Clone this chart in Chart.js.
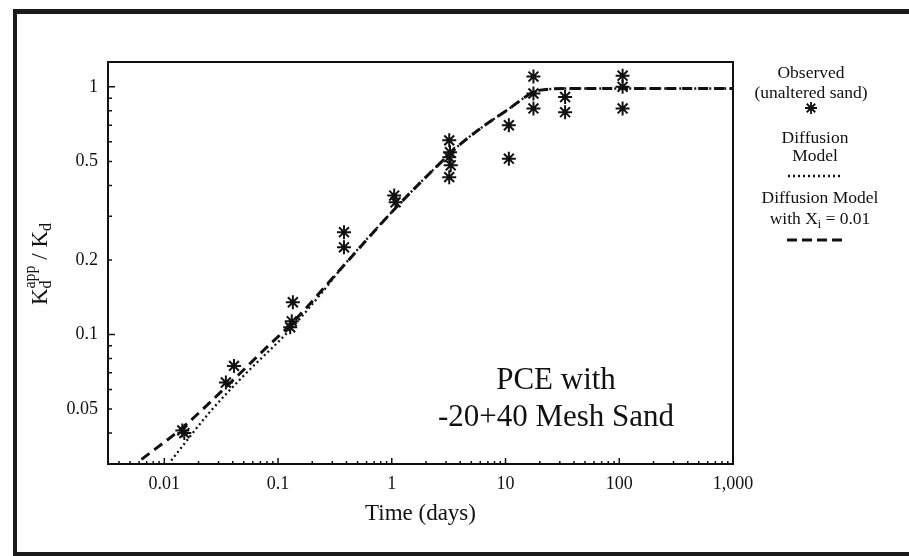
<!DOCTYPE html>
<html>
<head>
<meta charset="utf-8">
<script src="https://cdn.jsdelivr.net/npm/chart.js@4"></script>
<style>
  html, body { margin: 0; padding: 0; background: #fff; }
  #wrap { width: 909px; height: 556px; position: relative; }
</style>
</head>
<body>
<div id="wrap"><canvas id="chart"></canvas></div>
<script>
// observed points (unaltered sand)
const obsTime = [0.0144, 0.0150, 0.0348, 0.041, 0.128, 0.132, 0.135, 0.38, 0.38, 1.05, 1.08, 3.2, 3.25, 3.2, 3.3, 3.2, 10.7, 10.7, 17.6, 17.6, 17.6, 33.4, 33.4, 107, 107, 107];
const obsKd   = [0.041, 0.040, 0.064, 0.0747, 0.107, 0.113, 0.135, 0.259, 0.225, 0.364, 0.342, 0.608, 0.545, 0.52, 0.482, 0.432, 0.70, 0.513, 1.10, 0.94, 0.818, 0.91, 0.79, 1.11, 1.0, 0.818];

// Diffusion model (dotted)
const diffTime = [0.0115, 0.0255, 0.0496, 0.126, 0.25, 0.367, 1.1, 2.72, 4.06, 10.3, 20.2, 40, 1000];
const diffKd   = [0.031, 0.049, 0.068, 0.104, 0.150, 0.187, 0.327, 0.497, 0.59, 0.805, 0.97, 0.985, 0.985];

// Diffusion model with Xi = 0.01 (dashed)
const diffXiTime = [0.0063, 0.0144, 0.041, 0.074, 0.135, 0.367, 1.1, 2.72, 4.06, 10.3, 20.2, 40, 1000];
const diffXiKd   = [0.0313, 0.042, 0.066, 0.086, 0.112, 0.187, 0.327, 0.497, 0.59, 0.805, 0.97, 0.985, 0.985];

const xTicks = [0.01, 0.1, 1, 10, 100, 1000];
const xTickLabels = ['0.01', '0.1', '1', '10', '100', '1,000'];
const yTicks = [0.05, 0.1, 0.2, 0.5, 1];
const yTickLabels = ['0.05', '0.1', '0.2', '0.5', '1'];

const SERIF = "'Liberation Serif', 'Times New Roman', serif";

const toPts = (xs, ys) => xs.map((x, i) => ({ x: x, y: ys[i] }));

const minorValues = (min, max) => {
  const out = [];
  for (let e = -4; e <= 3; e++) {
    for (let m = 1; m <= 9; m++) {
      const v = m * Math.pow(10, e);
      if (v >= min && v <= max) out.push({ v: v, major: m === 1 });
    }
  }
  return out;
};

const decor = {
  id: 'decor',
  afterDraw(chart) {
    const ctx = chart.ctx;
    const a = chart.chartArea;
    const xs = chart.scales.x, ys = chart.scales.y;
    ctx.save();

    // outer frame
    ctx.fillStyle = '#1a1a1a';
    ctx.fillRect(13, 9, 4, 547);
    ctx.fillRect(13, 9, 896, 5);
    ctx.fillRect(13, 552, 896, 4);

    // plot box top / right
    ctx.strokeStyle = '#111';
    ctx.lineWidth = 2;
    ctx.beginPath();
    ctx.moveTo(a.left, a.top); ctx.lineTo(a.right, a.top); ctx.lineTo(a.right, a.bottom);
    ctx.stroke();

    // inward ticks
    ctx.lineWidth = 1.5;
    ctx.beginPath();
    minorValues(xs.min, xs.max).forEach(t => {
      const px = xs.getPixelForValue(t.v);
      ctx.moveTo(px, a.bottom); ctx.lineTo(px, a.bottom - (t.major ? 6 : 3));
    });
    minorValues(ys.min, ys.max).forEach(t => {
      const py = ys.getPixelForValue(t.v);
      ctx.moveTo(a.left, py); ctx.lineTo(a.left + (t.major ? 7 : 4), py);
    });
    ctx.stroke();

    ctx.fillStyle = '#111';

    // y axis title K_d^app / K_d
    const parts = [
      { t: 'K', size: 23, dy: 0 },
      { t: 'd', size: 16, dy: 6 },
      { t: 'app', size: 16, dy: -10 },
      { t: ' / K', size: 23, dy: 0 },
      { t: 'd', size: 16, dy: 6 }
    ];
    ctx.save();
    ctx.translate(41, 264);
    ctx.rotate(-Math.PI / 2);
    ctx.textBaseline = 'middle';
    ctx.textAlign = 'left';
    let tot = 0;
    parts.forEach(p => { ctx.font = p.size + 'px ' + SERIF; p.w = ctx.measureText(p.t).width; tot += p.w; });
    tot -= parts[1].w;
    let cx = -tot / 2;
    parts.forEach((p, i) => {
      ctx.font = p.size + 'px ' + SERIF;
      // superscript sits above the subscript
      if (i === 2) cx -= parts[1].w;
      ctx.fillText(p.t, cx, p.dy);
      cx += p.w;
    });
    ctx.restore();

    // annotation
    ctx.textAlign = 'center';
    ctx.textBaseline = 'alphabetic';
    ctx.font = '31px ' + SERIF;
    ctx.fillText('PCE with', 556, 389);
    ctx.fillText('-20+40 Mesh Sand', 556, 426);

    // legend
    const lx = 815;
    ctx.font = '17.5px ' + SERIF;
    ctx.fillText('Observed', lx - 4, 78);
    ctx.fillText('(unaltered sand)', lx - 4, 98);
    ctx.fillText('Diffusion', lx, 143);
    ctx.fillText('Model', lx, 161);
    ctx.fillText('Diffusion Model', lx + 5, 203);
    // with X_i = 0.01
    const s1 = 'with X', s2 = 'i', s3 = ' = 0.01';
    ctx.textAlign = 'left';
    const w1 = ctx.measureText(s1).width, w3 = ctx.measureText(s3).width;
    ctx.font = '12px ' + SERIF;
    const w2 = ctx.measureText(s2).width;
    let sx = lx + 5 - (w1 + w2 + w3) / 2;
    ctx.font = '17.5px ' + SERIF;
    ctx.fillText(s1, sx, 224); sx += w1;
    ctx.font = '12px ' + SERIF;
    ctx.fillText(s2, sx, 228); sx += w2;
    ctx.font = '17.5px ' + SERIF;
    ctx.fillText(s3, sx, 224);

    // legend samples
    ctx.strokeStyle = '#111';
    ctx.lineWidth = 1.8;
    const sy = 108, ax = lx - 4;
    ctx.beginPath();
    for (let k = 0; k < 4; k++) {
      const ang = k * Math.PI / 4;
      ctx.moveTo(ax + Math.cos(ang) * 6, sy + Math.sin(ang) * 6);
      ctx.lineTo(ax - Math.cos(ang) * 6, sy - Math.sin(ang) * 6);
    }
    ctx.stroke();
    ctx.lineWidth = 2.4;
    ctx.setLineDash([2, 3]);
    ctx.beginPath(); ctx.moveTo(lx - 27, 176); ctx.lineTo(lx + 27, 176); ctx.stroke();
    ctx.setLineDash([10, 5]);
    ctx.lineWidth = 3;
    ctx.beginPath(); ctx.moveTo(lx - 28, 240); ctx.lineTo(lx + 28, 240); ctx.stroke();
    ctx.restore();
  }
};

new Chart(document.getElementById('chart'), {
  type: 'scatter',
  data: {
    datasets: [
      {
        label: 'Diffusion Model',
        type: 'line',
        data: toPts(diffTime, diffKd),
        borderColor: '#111',
        borderWidth: 2.3,
        borderDash: [2, 3],
        pointRadius: 0,
        fill: false,
        cubicInterpolationMode: 'monotone'
      },
      {
        label: 'Diffusion Model with Xi = 0.01',
        type: 'line',
        data: toPts(diffXiTime, diffXiKd),
        borderColor: '#111',
        borderWidth: 3,
        borderDash: [10, 6],
        pointRadius: 0,
        fill: false,
        cubicInterpolationMode: 'monotone'
      },
      {
        label: 'Observed (unaltered sand)',
        data: toPts(obsTime, obsKd),
        pointStyle: 'star',
        pointRadius: 7,
        borderColor: '#111',
        backgroundColor: '#111',
        borderWidth: 2
      }
    ]
  },
  options: {
    responsive: true,
    maintainAspectRatio: false,
    animation: false,
    layout: { padding: { left: 0, top: 62, right: 176, bottom: 24 } },
    plugins: { legend: { display: false }, tooltip: { enabled: false } },
    scales: {
      x: {
        type: 'logarithmic',
        min: 0.0032,
        max: 1000,
        afterBuildTicks: s => { s.ticks = xTicks.map(v => ({ value: v })); },
        afterFit: s => { s.height = 68; },
        ticks: {
          color: '#111',
          font: { family: SERIF, size: 18 },
          padding: 9,
          maxRotation: 0,
          autoSkip: false,
          callback: v => xTickLabels[xTicks.indexOf(v)] ?? ''
        },
        grid: { drawOnChartArea: false, drawTicks: false },
        border: { color: '#111', width: 2 },
        title: {
          display: true,
          text: 'Time (days)',
          color: '#111',
          font: { family: SERIF, size: 23 },
          padding: { top: 4, bottom: 4 }
        }
      },
      y: {
        type: 'logarithmic',
        min: 0.03,
        max: 1.26,
        afterBuildTicks: s => { s.ticks = yTicks.map(v => ({ value: v })); },
        afterFit: s => { s.width = 108; },
        ticks: {
          color: '#111',
          font: { family: SERIF, size: 18 },
          padding: 10,
          autoSkip: false,
          callback: v => yTickLabels[yTicks.indexOf(v)] ?? ''
        },
        grid: { drawOnChartArea: false, drawTicks: false },
        border: { color: '#111', width: 2 }
      }
    }
  },
  plugins: [decor]
});
</script>
</body>
</html>
